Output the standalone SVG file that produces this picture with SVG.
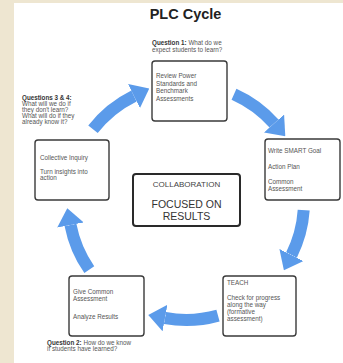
<svg xmlns="http://www.w3.org/2000/svg" width="343" height="363" viewBox="0 0 343 363">
<defs>
<style>
.bg{fill:#ffffff}
.parch{fill:#EEE6D1}
.box{fill:#ffffff;stroke:#3a3a3a;stroke-width:1.4}
.cbox{fill:#ffffff;stroke:#2a2a2a;stroke-width:2}
.t{font-family:"Liberation Sans",Arial,sans-serif;font-size:6.3px;fill:#555555}
.q{font-family:"Liberation Sans",Arial,sans-serif;font-size:6.3px;fill:#555555}
.qb{font-weight:bold;fill:#333333}
.title{font-family:"Liberation Sans",Arial,sans-serif;font-size:14.5px;font-weight:bold;fill:#222222}
.c1{font-family:"Liberation Sans",Arial,sans-serif;font-size:8px;fill:#444444}
.c2{font-family:"Liberation Sans",Arial,sans-serif;font-size:10.5px;fill:#333333}
.arr{fill:none;stroke:#5B9BEA;stroke-width:12;marker-end:url(#ah)}
</style>
<marker id="ah" markerUnits="userSpaceOnUse" markerWidth="17" markerHeight="27" viewBox="0 0 17 27" refX="0" refY="13.5" orient="auto">
<path d="M0,0 L17,13.5 L0,27 z" fill="#5B9BEA"/>
</marker>
</defs>
<rect class="bg" x="0" y="0" width="343" height="363"/>
<rect class="parch" x="0" y="0" width="14" height="363"/>
<rect class="parch" x="0" y="0" width="343" height="3"/>
<text class="title" x="185.5" y="19" text-anchor="middle">PLC Cycle</text>

<g id="connectors">
<path class="arr" d="M234.0,94.2 A118,118 0 0 1 274,123.5"/>
<path class="arr" d="M303.7,210.2 A118,118 0 0 1 291.5,255"/>
<path class="arr" d="M218,315.6 A118,118 0 0 1 165,318"/>
<path class="arr" d="M89.3,269.7 A118,118 0 0 1 70.5,225"/>
<path class="arr" d="M93,129.3 A118,118 0 0 1 134,96"/>
</g>

<g id="q1">
<text class="q" x="152" y="45"><tspan class="qb">Question 1:</tspan> What do we</text>
<text class="q" x="152" y="51.5">expect students to learn?</text>
</g>
<g id="q34">
<text class="q" x="22" y="100"><tspan class="qb">Questions 3 &amp; 4:</tspan></text>
<text class="q" x="22" y="106">What will we do if</text>
<text class="q" x="22" y="112">they don't learn?</text>
<text class="q" x="22" y="118">What will do if they</text>
<text class="q" x="22" y="124">already know it?</text>
</g>
<g id="q2">
<text class="q" x="47" y="345"><tspan class="qb">Question 2:</tspan> How do we know</text>
<text class="q" x="47" y="351">if students have learned?</text>
</g>

<g id="review">
<rect class="box" x="152" y="61" width="75" height="60" rx="3"/>
<text class="t" x="156" y="78">Review Power</text>
<text class="t" x="156" y="85.5">Standards and</text>
<text class="t" x="156" y="93">Benchmark</text>
<text class="t" x="156" y="100.5">Assessments</text>
</g>
<g id="smart">
<rect class="box" x="265" y="139" width="75" height="61" rx="3"/>
<text class="t" x="268" y="153">Write SMART Goal</text>
<text class="t" x="268" y="169">Action Plan</text>
<text class="t" x="268" y="184">Common</text>
<text class="t" x="268" y="191">Assessment</text>
</g>
<g id="teach">
<rect class="box" x="223" y="276" width="73" height="60" rx="3"/>
<text class="t" x="227" y="285">TEACH</text>
<text class="t" x="227" y="300">Check for progress</text>
<text class="t" x="227" y="307">along the way</text>
<text class="t" x="227" y="314">(formative</text>
<text class="t" x="227" y="321">assessment)</text>
</g>
<g id="give">
<rect class="box" x="69" y="276" width="75" height="60" rx="3"/>
<text class="t" x="73" y="294">Give Common</text>
<text class="t" x="73" y="301">Assessment</text>
<text class="t" x="73" y="319">Analyze Results</text>
</g>
<g id="inquiry">
<rect class="box" x="35" y="140" width="74" height="60" rx="3"/>
<text class="t" x="40" y="160">Collective Inquiry</text>
<text class="t" x="40" y="174">Turn insights into</text>
<text class="t" x="40" y="180">action</text>
</g>
<g id="center">
<rect class="cbox" x="133" y="174" width="107" height="52" rx="3"/>
<text class="c1" x="186.5" y="187" text-anchor="middle">COLLABORATION</text>
<text class="c2" x="186.5" y="208" text-anchor="middle">FOCUSED ON</text>
<text class="c2" x="186.5" y="220" text-anchor="middle">RESULTS</text>
</g>
</svg>
